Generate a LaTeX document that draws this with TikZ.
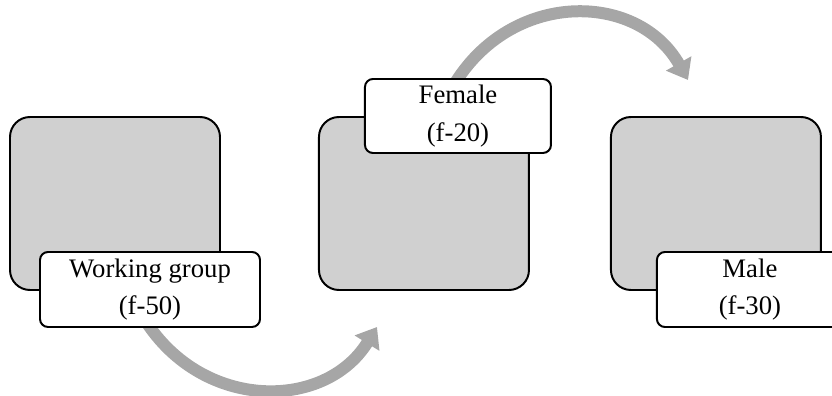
\documentclass[tikz,border=0pt]{standalone}
\usepackage{fontspec}
\setmainfont{Liberation Serif}
\usetikzlibrary{positioning,calc}
\usetikzlibrary{arrows.meta}
\usetikzlibrary{backgrounds}

\definecolor{boxgray}{HTML}{D0D0D0}
\definecolor{flowgray}{HTML}{A6A6A6}

\begin{document}
\begin{tikzpicture}[> = {Triangle[length = 0.475cm, width = 0.7cm]}, line width = 1.4pt]
\tikzstyle{picbox}=[
  draw = black,
  fill = boxgray,
  rounded corners = 0.5cm,
  minimum width = 5.25cm,
  minimum height = 4.325cm
]
\tikzstyle{tagbox}=[
  draw = black,
  fill = white,
  rounded corners = 0.2cm,
  minimum width = 4.65cm,
  minimum height = 1.85cm,
  align = center,
  font = \fontsize{19}{26.7}\selectfont
]
\tikzstyle{flow}=[
  color = flowgray,
  line width = 0.3cm,
  shorten < = -0.25cm
]

\useasboundingbox (0,0) rectangle (20.8,9.9);
\clip (0,0) rectangle (20.8,9.9);

\node[picbox] (G) at (2.875,4.8125) {};
\node[picbox] (F) [right = 2.425cm of G] {};
\node[picbox] (M) [right = 2cm of F] {};

\node[tagbox, minimum width = 5.5cm, minimum height = 1.875cm, anchor = south west] (WG) at ($(G.south west) + (0.75,-0.925)$) {Working group\\(f-50)};
\node[tagbox, anchor = north west] (FE) at ($(F.north west) + (1.15,0.95)$) {Female\\(f-20)};
\node[tagbox, minimum height = 1.875cm, anchor = south west] (MA) at ($(M.south west) + (1.15,-0.925)$) {Male\\(f-30)};

\coordinate (tipG) at (9.425,1.725);
\coordinate (tipF) at (17.2,7.9);

\begin{scope}[on background layer]
\draw[->, flow] (WG.south) to [bend right = 58, looseness = 1.11] (tipG);
\draw[->, flow] (FE.north) to [bend left = 60, looseness = 1.14] (tipF);
\end{scope}
\end{tikzpicture}
\end{document}
